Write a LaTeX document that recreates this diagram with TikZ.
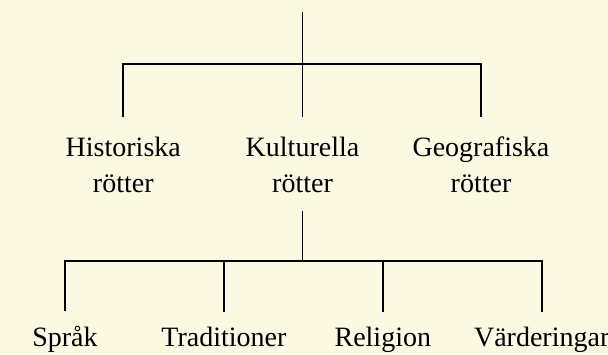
\documentclass[tikz,border=0pt]{standalone}
\usepackage{fontspec}
\setmainfont{Liberation Serif}
\definecolor{bg}{RGB}{252,249,227}
\begin{document}
\begin{tikzpicture}[x=1pt,y=-1pt, line width=1.8pt,
  lbl/.style={font=\fontsize{28}{36}\selectfont, inner sep=0pt, align=center, anchor=north},
  leaf/.style={font=\fontsize{28}{36}\selectfont, inner sep=0pt, anchor=base}]
\fill[bg] (0,0) rectangle (608,354);
\useasboundingbox (0,0) rectangle (608,354);
\coordinate (root) at (302.5,12);
\coordinate (hub1) at (302.5,64);
\node[lbl] (hist) at (123.3,136) {Historiska\\rötter};
\node[lbl] (kult) at (302.5,136) {Kulturella\\rötter};
\node[lbl] (geo) at (481,136) {Geografiska\\rötter};
\draw (root) -- (hub1);
\draw[shorten <=19pt, shorten >=19pt] (hist.north) |- (hub1) -| (geo.north);
\draw[shorten >=19pt] (hub1) -- (kult.north);
\coordinate (hub2) at (302.5,261);
\node[leaf] (sprak) at (65,346.7) {Språk};
\node[leaf] (trad) at (223.9,346.7) {Traditioner};
\node[leaf] (rel) at (382.8,346.7) {Religion};
\node[leaf] (vard) at (541.7,346.7) {Värderingar};
\draw[shorten <=17pt] (kult.south) -- (hub2);
\draw[shorten <=14.6pt, shorten >=14.6pt] (sprak.north) |- (hub2) -| (vard.north);
\draw[shorten <=14.6pt] (trad.north) -- (trad.north |- hub2);
\draw[shorten <=14.6pt] (rel.north) -- (rel.north |- hub2);
\end{tikzpicture}
\end{document}
